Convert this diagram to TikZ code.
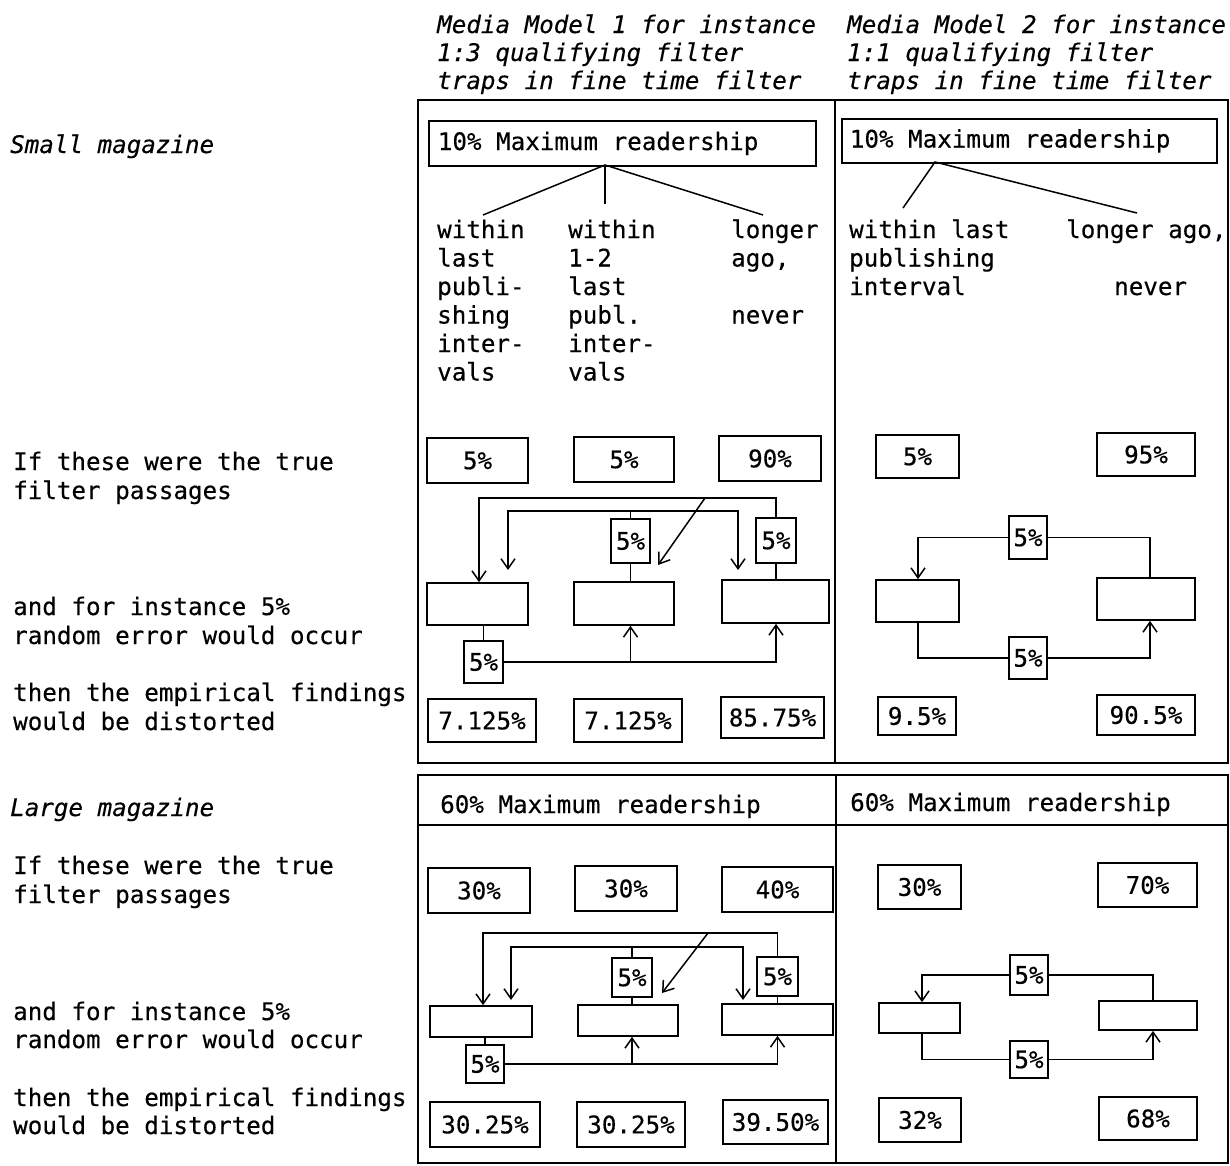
\documentclass[tikz,border=0pt]{standalone}
\usepackage{fontspec}
\newfontfamily\tf{DejaVu Sans Mono}[FakeBold=0.4]
\newcommand\tfs{\tf\fontsize{24.2}{28.5}\selectfont}
\usetikzlibrary{arrows.meta}
\tikzset{
 txt/.style={font=\tfs, inner sep=0pt, anchor=base west},
 itxt/.style={font=\tfs\itshape, inner sep=0pt, anchor=base west},
 pbox/.style={draw, line width=1.7pt, inner sep=0pt, font=\tfs},
 conn/.style={line width=1.5pt},
 arr/.style={-{Straight Barb[length=10pt,width=14pt]}},
 framed/.style={line width=1.9pt}
}
\newcommand\bx[6]{%
 \pgfmathsetmacro\bw{#4-#2}\pgfmathsetmacro\bh{#5-#3}%
 \node[pbox,minimum width=\bw pt,minimum height=\bh pt] (#1) at ({(#2+#4)/2},{(#3+#5)/2}) {#6};}
\begin{document}
\begin{tikzpicture}[x=1pt,y=-1pt]
\useasboundingbox (0,0) rectangle (1230,1165);
% ---------------- headers
\node[itxt] (h1a) at (437,33) {Media Model 1 for instance};
\node[itxt] (h1b) at (437,61) {1:3 qualifying filter};
\node[itxt] (h1c) at (437,89) {traps in fine time filter};
\node[itxt] (h2a) at (847,33) {Media Model 2 for instance};
\node[itxt] (h2b) at (847,61) {1:1 qualifying filter};
\node[itxt] (h2c) at (847,89) {traps in fine time filter};
% ---------------- left labels
\node[itxt] (sm) at (10,153) {Small magazine};
\node[txt] (s1a) at (13,470) {If these were the true};
\node[txt] (s1b) at (13,499) {filter passages};
\node[txt] (s2a) at (13,615) {and for instance 5\%};
\node[txt] (s2b) at (13,644) {random error would occur};
\node[txt] (s3a) at (13,701) {then the empirical findings};
\node[txt] (s3b) at (13,730) {would be distorted};
\node[itxt] (lm) at (10,816) {Large magazine};
\node[txt] (l1a) at (13,874) {If these were the true};
\node[txt] (l1b) at (13,903) {filter passages};
\node[txt] (l2a) at (13,1020) {and for instance 5\%};
\node[txt] (l2b) at (13,1048) {random error would occur};
\node[txt] (l3a) at (13,1106) {then the empirical findings};
\node[txt] (l3b) at (13,1134) {would be distorted};
% ---------------- frames
\draw[framed] (418,100) rectangle (1228,763);
\draw[framed] (835,100) -- (835,763);
\draw[framed] (418,775) rectangle (1228,1163);
\draw[framed] (418,825) -- (1228,825);
\draw[framed] (836,775) -- (836,1163);
% ---------------- small magazine, maximum readership boxes and trees
\node[pbox, inner xsep=9pt, minimum height=45pt, anchor=north west] (mx1) at (428,120) {\makebox[369pt][l]{10\% Maximum readership}};
\node[pbox, inner xsep=8pt, minimum height=44pt, anchor=north west] (mx2) at (841,118) {\makebox[359pt][l]{10\% Maximum readership}};
\coordinate (ap1) at (605,165);
\coordinate (ap1l) at (483,215);
\coordinate (ap1m) at (605,204);
\coordinate (ap1r) at (763,215);
\draw[conn] (ap1l) -- (ap1) -- (ap1r);
\draw[conn] (ap1) -- (ap1m);
\coordinate (ap2) at (935,162);
\coordinate (ap2l) at (903,208);
\coordinate (ap2r) at (1137,213);
\draw[conn] (ap2l) -- (ap2) -- (ap2r);
\foreach [count=\i] \t in {within,last,publi-,shing,inter-,vals}
  \node[txt] (ca\i) at (437,{238+28.5*(\i-1)}) {\t};
\foreach [count=\i] \t in {within,1-2,last,publ.,inter-,vals}
  \node[txt] (cb\i) at (568,{238+28.5*(\i-1)}) {\t};
\node[txt] (cc1) at (731,238) {longer};
\node[txt] (cc2) at (731,266.5) {ago,};
\node[txt] (cc3) at (731,323.5) {never};
\node[txt] (da1) at (849,238) {within last};
\node[txt] (da2) at (849,266.5) {publishing};
\node[txt] (da3) at (849,295) {interval};
\node[txt] (db1) at (1066,238) {longer ago,};
\node[txt] (db2) at (1114,295) {never};
% percent boxes
\bx{p1a}{427}{438}{528}{483}{5\%}
\bx{p1b}{574}{437}{674}{482}{5\%}
\bx{p1c}{719}{436}{821}{481}{90\%}
\bx{p2a}{876}{435}{959}{478}{5\%}
\bx{p2b}{1097}{433}{1195}{476}{95\%}
% empty boxes, model 1
\bx{A1}{427}{583}{528}{625}{}
\bx{B1}{574}{582}{674}{625}{}
\bx{C1}{722}{580}{829}{623}{}
\bx{e1t}{756}{518}{796}{563}{5\%}
\bx{e1m}{611}{519}{650}{563}{5\%}
\bx{e1b}{464}{641}{503}{683}{5\%}
\coordinate (t1L) at (479,498);
\coordinate (d1s) at (705,498);
\coordinate (d1e) at (658,565);
\coordinate (m1L) at (508,511);
\coordinate (m1R) at (738,511);
\draw[conn] (e1t.south) -- (e1t.south |- C1.north);
\draw[conn,arr] (e1t.north) |- (t1L) -- (t1L |- A1.north);
\draw[conn,arr] (d1s) -- (d1e);
\draw[conn] (e1m.south) -- (e1m.south |- B1.north);
\draw[conn,arr] (e1m.north) |- (m1L) -- ++(0,59);
\draw[conn,arr] (e1m.north) |- (m1R) -- ++(0,59);
\draw[conn] (e1b.north |- A1.south) -- (e1b.north);
\draw[conn,arr] (e1b.east) -| (e1t.south |- C1.south);
\draw[conn,arr] (e1b.east -| e1m.south) -- (e1m.south |- B1.south);
% results
\bx{r1a}{428}{699}{536}{742}{7.125\%}
\bx{r1b}{574}{699}{682}{742}{7.125\%}
\bx{r1c}{721}{697}{824}{738}{85.75\%}
% ---------------- small magazine, model 2
\bx{L2}{876}{580}{959}{622}{}
\bx{R2}{1097}{578}{1195}{620}{}
\bx{f2t}{1009}{516}{1047}{559}{5\%}
\bx{f2b}{1009}{637}{1047}{679}{5\%}
\coordinate (q2R) at (1150,537.5);
\coordinate (q2L) at (918,537.5);
\coordinate (r2L) at (918,658);
\coordinate (r2R) at (1150,658);
\draw[conn] (q2R |- R2.north) -- (q2R) -- (f2t.east);
\draw[conn,arr] (f2t.west) -- (q2L) -- (q2L |- L2.north);
\draw[conn] (r2L |- L2.south) -- (r2L) -- (f2b.west);
\draw[conn,arr] (f2b.east) -- (r2R) -- (r2R |- R2.south);
\bx{r2a}{878}{697}{956}{735}{9.5\%}
\bx{r2b}{1097}{695}{1195}{735}{90.5\%}
% ---------------- large magazine
\node[txt] (mx3) at (440,813) {60\% Maximum readership};
\node[txt] (mx4) at (850,811) {60\% Maximum readership};
\bx{p3a}{428}{868}{530}{913}{30\%}
\bx{p3b}{575}{866}{677}{911}{30\%}
\bx{p3c}{722}{867}{833}{912}{40\%}
\bx{p4a}{878}{865}{961}{909}{30\%}
\bx{p4b}{1098}{863}{1197}{907}{70\%}
% model 1 large
\bx{A3}{430}{1006}{532}{1037}{}
\bx{B3}{578}{1005}{678}{1036}{}
\bx{C3}{722}{1004}{833}{1035}{}
\bx{e3t}{757}{957}{798}{996}{5\%}
\bx{e3m}{612}{958}{652}{997}{5\%}
\bx{e3b}{466}{1045}{504}{1083}{5\%}
\coordinate (t3L) at (483,933);
\coordinate (d3s) at (708,933);
\coordinate (d3e) at (662,993);
\coordinate (m3L) at (511,947);
\coordinate (m3R) at (743,947);
\draw[conn] (e3t.south) -- (e3t.south |- C3.north);
\draw[conn,arr] (e3t.north) |- (t3L) -- (t3L |- A3.north);
\draw[conn,arr] (d3s) -- (d3e);
\draw[conn] (e3m.south) -- (e3m.south |- B3.north);
\draw[conn,arr] (e3m.north) |- (m3L) -- ++(0,53);
\draw[conn,arr] (e3m.north) |- (m3R) -- ++(0,53);
\draw[conn] (e3b.north |- A3.south) -- (e3b.north);
\draw[conn,arr] (e3b.east) -| (e3t.south |- C3.south);
\draw[conn,arr] (e3b.east -| e3m.south) -- (e3m.south |- B3.south);
\bx{r3a}{430}{1102}{540}{1147}{30.25\%}
\bx{r3b}{577}{1102}{685}{1147}{30.25\%}
\bx{r3c}{723}{1100}{828}{1144}{39.50\%}
% model 2 large
\bx{L4}{879}{1003}{960}{1033}{}
\bx{R4}{1099}{1001}{1197}{1030}{}
\bx{f4t}{1010}{955}{1048}{995}{5\%}
\bx{f4b}{1010}{1041}{1048}{1078}{5\%}
\coordinate (q4R) at (1153,975);
\coordinate (q4L) at (922,975);
\coordinate (r4L) at (922,1059.5);
\coordinate (r4R) at (1153,1059.5);
\draw[conn] (q4R |- R4.north) -- (q4R) -- (f4t.east);
\draw[conn,arr] (f4t.west) -- (q4L) -- (q4L |- L4.north);
\draw[conn] (r4L |- L4.south) -- (r4L) -- (f4b.west);
\draw[conn,arr] (f4b.east) -- (r4R) -- (r4R |- R4.south);
\bx{r4a}{879}{1098}{961}{1142}{32\%}
\bx{r4b}{1099}{1097}{1197}{1140}{68\%}
\end{tikzpicture}
\end{document}
